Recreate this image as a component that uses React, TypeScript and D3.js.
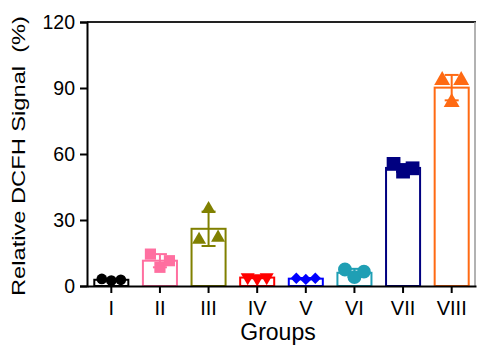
import React, { useRef, useEffect } from 'react';
import * as d3 from 'd3';

const groups = ['I', 'II', 'III', 'IV', 'V', 'VI', 'VII', 'VIII'];
// three replicates per group, left / middle / right
const replicates = [
  [3.2, 2.5, 2.8],
  [14.5, 8.5, 11.5],
  [21, 35, 22],
  [4, 3.5, 4],
  [3.5, 3, 3.5],
  [7.5, 4, 6.5],
  [55.5, 52, 53.5],
  [93.5, 83.5, 93.5],
];
const yTicks = [0, 30, 60, 90, 120];

const colors = ['#000000', '#ff6fa0', '#808000', '#ff0000', '#0000ff', '#1f9fb4', '#000080', '#ff6a13'];
const shapes = ['circle', 'square', 'triangle', 'triangleDown', 'diamond', 'circle', 'square', 'triangle'];
const markerSize = [90, 125, 85, 85, 65, 150, 190, 110];

const symbolFor = (s: string) => {
  if (s === 'circle') return d3.symbolCircle;
  if (s === 'square' || s === 'diamond') return d3.symbolSquare;
  return d3.symbolTriangle;
};

const App = () => {
  const svgRef = useRef<SVGSVGElement>(null);

  useEffect(() => {
    const width = 477;
    const height = 347;
    const margin = { top: 22, right: 1, bottom: 61, left: 87 };

    const svg = d3.select(svgRef.current);
    svg.selectAll('*').remove();

    const font = 'Liberation Sans, Arial, sans-serif';

    const x = d3.scaleBand()
      .domain(groups)
      .range([margin.left, width - margin.right])
      .paddingInner(0.3)
      .paddingOuter(0.15);

    const y = d3.scaleLinear()
      .domain([0, 120])
      .range([height - margin.bottom, margin.top]);

    const stats = replicates.map(v => ({
      mean: d3.mean(v) as number,
      sd: d3.deviation(v) as number,
    }));

    // frame top / right
    svg.append('line')
      .attr('x1', margin.left).attr('x2', width - 1)
      .attr('y1', y(120)).attr('y2', y(120))
      .attr('stroke', '#222').attr('stroke-width', 2);
    svg.append('line')
      .attr('x1', width - 2).attr('x2', width - 2)
      .attr('y1', y(120)).attr('y2', y(0))
      .attr('stroke', '#999').attr('stroke-width', 1.5);

    groups.forEach((g, i) => {
      const c = colors[i];
      const cx = (x(g) as number) + x.bandwidth() / 2;
      const { mean, sd } = stats[i];

      svg.append('rect')
        .attr('x', x(g) as number)
        .attr('y', y(mean))
        .attr('width', x.bandwidth())
        .attr('height', y(0) - y(mean))
        .attr('fill', 'white')
        .attr('stroke', c)
        .attr('stroke-width', 2);

      // error bar (mean ± SD)
      const eb = svg.append('g').attr('stroke', c).attr('stroke-width', 2);
      eb.append('line').attr('x1', cx).attr('x2', cx).attr('y1', y(mean + sd)).attr('y2', y(mean - sd));
      [mean + sd, mean - sd].forEach(v => {
        eb.append('line').attr('x1', cx - 7).attr('x2', cx + 7).attr('y1', y(v)).attr('y2', y(v));
      });

      const sym = d3.symbol().type(symbolFor(shapes[i])).size(markerSize[i]);
      replicates[i].forEach((v, j) => {
        const px = cx + (j - 1) * 9.5;
        let rot = '';
        if (shapes[i] === 'triangleDown') rot = ' rotate(180)';
        if (shapes[i] === 'diamond') rot = ' rotate(45)';
        svg.append('path')
          .attr('d', sym() as string)
          .attr('transform', `translate(${px},${y(v)})${rot}`)
          .attr('fill', c);
      });
    });

    // axes
    const yAxis = d3.axisLeft(y).tickValues(yTicks).tickSize(7).tickPadding(5);
    const gy = svg.append('g')
      .attr('transform', `translate(${margin.left},0)`)
      .call(yAxis);
    gy.select('.domain').attr('stroke-width', 2).attr('stroke', '#000');
    gy.selectAll('.tick line').attr('stroke-width', 2);
    gy.selectAll('.tick text')
      .attr('font-family', font)
      .attr('font-size', 19.5)
      .attr('fill', '#000');

    const xAxis = d3.axisBottom(x).tickSize(7).tickPadding(8).tickSizeOuter(0);
    const gx = svg.append('g')
      .attr('transform', `translate(0,${y(0)})`)
      .call(xAxis);
    gx.select('.domain').attr('stroke-width', 2).attr('stroke', '#000');
    gx.selectAll('.tick line').attr('stroke-width', 2);
    gx.selectAll('.tick text')
      .attr('font-family', font)
      .attr('font-size', 20)
      .attr('fill', '#000');

    svg.append('text')
      .attr('x', 278)
      .attr('y', 340)
      .attr('text-anchor', 'middle')
      .attr('font-family', font)
      .attr('font-size', 23)
      .text('Groups');

    svg.append('text')
      .attr('transform', `translate(25,156) rotate(-90)`)
      .attr('text-anchor', 'middle')
      .attr('font-family', font)
      .attr('font-size', 19)
      .attr('textLength', 280)
      .attr('lengthAdjust', 'spacingAndGlyphs')
      .style('white-space', 'pre')
      .text('Relative DCFH Signal  (%)');
  }, []);

  return (
    <div style={{ position: 'absolute', left: 0, top: 0, width: 477, height: 347, background: 'white' }}>
      <svg ref={svgRef} width={477} height={347} style={{ display: 'block' }}></svg>
    </div>
  );
};

export default App;
